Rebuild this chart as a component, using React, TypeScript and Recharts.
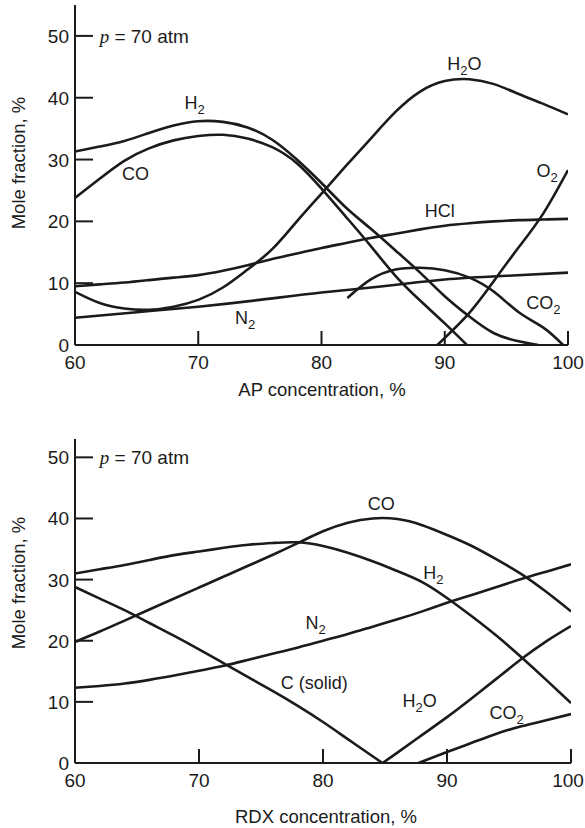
import React from "react";
import { LineChart, Line, XAxis, YAxis, ReferenceDot } from "recharts";

const INK = "#1b1b1b";
const FONT = '"Liberation Sans", Arial, sans-serif';

// ---- AP panel (top) ----
const apGridX = [60, 62, 64, 66, 68, 70, 72, 74, 76, 78, 80, 82, 84, 86, 88, 90, 92, 94, 96, 98, 100];
const apH2X = [60, 62, 64, 66, 68, 70, 72, 74, 76, 78, 80, 82, 84, 86, 88, 90, 92, 94, 96, 97.6];
const apH2 = [31.3, 32.1, 33.0, 34.3, 35.5, 36.2, 36.1, 35.2, 33.2, 30.0, 26.2, 22.2, 18.8, 15.3, 11.7, 7.9, 4.6, 1.9, 0.6, 0];
const apCOX = [60, 62, 64, 66, 68, 70, 72, 74, 76, 78, 80, 82, 84, 86, 88, 90, 91.8];
const apCO = [23.8, 26.9, 29.8, 31.8, 33.1, 33.8, 34.0, 33.4, 32.0, 29.4, 25.3, 20.7, 16.0, 11.2, 7.2, 3.5, 0];
const apH2O = [8.6, 6.8, 5.9, 5.7, 6.2, 7.3, 9.3, 12.2, 15.5, 20.0, 24.5, 29.0, 33.4, 37.7, 41.0, 42.7, 43.0, 42.2, 40.6, 39.0, 37.3];
const apHCl = [9.5, 9.8, 10.1, 10.5, 10.9, 11.3, 12.0, 12.9, 13.9, 14.8, 15.7, 16.5, 17.3, 18.0, 18.7, 19.3, 19.7, 20.0, 20.2, 20.3, 20.4];
const apN2X = [60, 65, 70, 75, 80, 85, 90, 95, 100];
const apN2 = [4.4, 5.3, 6.2, 7.3, 8.5, 9.5, 10.6, 11.2, 11.7];
const apO2X = [89.4, 92, 94, 96, 98, 100];
const apO2 = [0, 5.2, 10.4, 15.8, 21.3, 28.3];
const apCO2X = [82.1, 84, 86, 88, 90, 92, 94, 96, 98, 99.6];
const apCO2 = [7.6, 10.6, 12.2, 12.5, 12.1, 10.9, 8.6, 5.3, 2.8, 0];

// ---- RDX panel (bottom) ----
const rdxGridX = [60, 62, 64, 66, 68, 70, 72, 74, 76, 78, 80, 82, 84, 86, 88, 90, 92, 94, 96, 98, 100];
const rdxCO = [19.8, 21.5, 23.3, 25.1, 26.9, 28.7, 30.5, 32.3, 34.1, 36.0, 37.9, 39.3, 40.0, 39.9, 38.9, 37.3, 35.5, 33.3, 30.9, 28.0, 24.8];
const rdxH2 = [31.0, 31.7, 32.4, 33.2, 34.0, 34.6, 35.2, 35.7, 36.0, 36.1, 35.5, 34.4, 33.0, 31.4, 29.6, 27.0, 24.0, 20.8, 17.3, 13.6, 9.8];
const rdxN2 = [12.3, 12.6, 13.0, 13.6, 14.3, 15.1, 15.9, 16.9, 17.9, 18.9, 20.0, 21.1, 22.3, 23.5, 24.8, 26.2, 27.5, 28.8, 30.1, 31.3, 32.5];
const rdxCX = [60, 62, 64, 66, 68, 70, 72, 74, 76, 78, 80, 82, 84, 84.8];
const rdxC = [28.8, 26.9, 25.0, 22.9, 20.8, 18.6, 16.3, 14.0, 11.7, 9.3, 6.7, 3.9, 1.1, 0];
const rdxH2OX = [84.8, 86, 88, 90, 92, 94, 96, 98, 100];
const rdxH2O = [0, 1.7, 4.6, 7.5, 10.6, 13.8, 17.0, 19.9, 22.4];
const rdxCO2X = [87.7, 90, 92, 94, 96, 98, 100];
const rdxCO2 = [0, 1.8, 3.3, 4.8, 6.0, 7.0, 8.0];

const xTicks = [60, 70, 80, 90, 100];
const yTicks = [0, 10, 20, 30, 40, 50];

const pts = (xs: number[], ys: number[]) => xs.map((x, i) => ({ x, y: ys[i] }));

const XTick = (p: any) => {
  const { x, y, payload } = p;
  // keep the last label inside the picture
  const tx = Math.min(x, 585 - 17);
  return (
    <g>
      <line x1={x} x2={x} y1={y} y2={y - 14} stroke={INK} strokeWidth={2} />
      <text x={tx} y={y + 24} textAnchor="middle" fontSize={19} fill={INK} fontFamily={FONT}>
        {payload.value}
      </text>
    </g>
  );
};

const YTick = (p: any) => {
  const { x, y, payload } = p;
  return (
    <g>
      {payload.value !== 0 && <line x1={x} x2={x + 18} y1={y} y2={y} stroke={INK} strokeWidth={2} />}
      <text x={x - 6} y={y + 7} textAnchor="end" fontSize={19} fill={INK} fontFamily={FONT}>
        {payload.value}
      </text>
    </g>
  );
};

// label text pieces: [text, isSubscript]
type Part = [string, boolean?];

const note = (parts: Part[], anchor = "middle") => (props: any) => {
  const vb = props.viewBox || {};
  return (
    <text x={vb.x} y={vb.y + 6.5} textAnchor={anchor} fontSize={18} fill={INK} fontFamily={FONT}>
      {parts.map(([t, sub], i) => {
        const prevSub = i > 0 && parts[i - 1][1];
        const dy = sub ? 5 : prevSub ? -5 : 0;
        return (
          <tspan key={i} dy={dy} fontSize={sub ? 13 : 18}>
            {t}
          </tspan>
        );
      })}
    </text>
  );
};

const pressure = (props: any) => {
  const vb = props.viewBox || {};
  return (
    <text x={vb.x} y={vb.y + 7} fontSize={19} fill={INK} fontFamily={FONT}>
      <tspan fontFamily='"Liberation Serif", serif' fontStyle="italic">p</tspan>
      {" = 70 atm"}
    </text>
  );
};

const Note = (x: number, y: number, content: any) => (
  <ReferenceDot x={x} y={y} r={0} fill="none" stroke="none" ifOverflow="visible" label={content} />
);

const yTitle = () => (
  <text x={18} y={163} transform="rotate(-90 18 163)" textAnchor="middle" dominantBaseline="central"
    fontSize={18.5} fill={INK} fontFamily={FONT}>
    Mole fraction, %
  </text>
);

const xTitle = (label: string, cx: number, cy: number) => () => (
  <text x={cx} y={cy} textAnchor="middle" dominantBaseline="central" fontSize={18.5} fill={INK} fontFamily={FONT}>
    {label}
  </text>
);

const series = (key: string, data: { x: number; y: number }[]) => (
  <Line key={key} data={data} dataKey="y" type="natural" stroke={INK} strokeWidth={2.6}
    dot={false} activeDot={false} isAnimationActive={false} />
);

const axisLine = { stroke: INK, strokeWidth: 2 };

export default function App() {
  return (
    <div style={{ position: "absolute", left: 0, top: 0, width: 585, height: 828, background: "#fff" }}>
      <div style={{ position: "absolute", left: 0, top: 0 }}>
        <LineChart width={585} height={400} margin={{ top: 5, right: 17, bottom: 0, left: 0 }}>
          <XAxis dataKey="x" type="number" domain={[60, 100]} ticks={xTicks} allowDataOverflow height={55}
            axisLine={axisLine} tickLine={false} tickSize={0} tickMargin={0} tick={<XTick />}
            label={xTitle("AP concentration, %", 322, 389)} />
          <YAxis type="number" domain={[0, 55]} ticks={yTicks} allowDataOverflow width={75}
            axisLine={axisLine} tickLine={false} tickSize={0} tickMargin={0} tick={<YTick />}
            label={yTitle} />
          {series("apH2", pts(apH2X, apH2))}
          {series("apCO", pts(apCOX, apCO))}
          {series("apH2O", pts(apGridX, apH2O))}
          {series("apHCl", pts(apGridX, apHCl))}
          {series("apN2", pts(apN2X, apN2))}
          {series("apO2", pts(apO2X, apO2))}
          {series("apCO2", pts(apCO2X, apCO2))}
          {Note(62.0, 50, pressure)}
          {Note(69.7, 39.2, note([["H"], ["2", true]]))}
          {Note(64.9, 27.8, note([["CO"]]))}
          {Note(91.6, 45.6, note([["H"], ["2", true], ["O"]]))}
          {Note(98.3, 28.3, note([["O"], ["2", true]]))}
          {Note(89.6, 21.8, note([["HCl"]]))}
          {Note(98.0, 6.8, note([["CO"], ["2", true]]))}
          {Note(73.8, 4.5, note([["N"], ["2", true]]))}
        </LineChart>
      </div>
      <div style={{ position: "absolute", left: 0, top: 420 }}>
        <LineChart width={585} height={408} margin={{ top: 19, right: 14, bottom: 0, left: 0 }}>
          <XAxis dataKey="x" type="number" domain={[60, 100]} ticks={xTicks} allowDataOverflow height={65}
            axisLine={axisLine} tickLine={false} tickSize={0} tickMargin={0} tick={<XTick />}
            label={xTitle("RDX concentration, %", 326, 396)} />
          <YAxis type="number" domain={[0, 53]} ticks={yTicks} allowDataOverflow width={75}
            axisLine={axisLine} tickLine={false} tickSize={0} tickMargin={0} tick={<YTick />}
            label={yTitle} />
          {series("rdxCO", pts(rdxGridX, rdxCO))}
          {series("rdxH2", pts(rdxGridX, rdxH2))}
          {series("rdxN2", pts(rdxGridX, rdxN2))}
          {series("rdxC", pts(rdxCX, rdxC))}
          {series("rdxH2O", pts(rdxH2OX, rdxH2O))}
          {series("rdxCO2", pts(rdxCO2X, rdxCO2))}
          {Note(62.0, 50, pressure)}
          {Note(84.7, 42.5, note([["CO"]]))}
          {Note(88.9, 31.2, note([["H"], ["2", true]]))}
          {Note(79.4, 23.0, note([["N"], ["2", true]]))}
          {Note(79.3, 13.2, note([["C (solid)"]]))}
          {Note(87.8, 10.3, note([["H"], ["2", true], ["O"]]))}
          {Note(94.8, 8.3, note([["CO"], ["2", true]]))}
        </LineChart>
      </div>
    </div>
  );
}
